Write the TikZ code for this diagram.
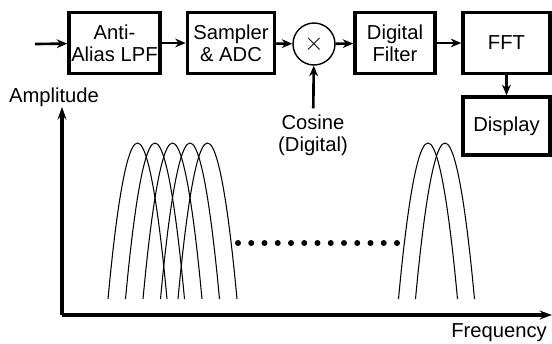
\documentclass[tikz,border=0pt]{standalone}
\usepackage{fontspec}
\setmainfont{Liberation Sans}
\usetikzlibrary{arrows.meta}

\tikzset{
  blk/.style = {draw, line width=2pt, minimum height=1.22cm, align=center, inner sep=1pt, font=\fontsize{11.5}{12.5}\selectfont},
  flow/.style = {-{Stealth[length=6pt, width=5pt]}, line width=1.5pt},
  lobe/.style = {line width=0.6pt}
}

\begin{document}
\begin{tikzpicture}[x = 0.02cm, y = -0.02cm]
    \useasboundingbox (0, 0) rectangle (552, 343);

    % signal chain
    \coordinate (in) at (35, 44);
    \node [blk, minimum width = 1.82cm] (lpf) at (114.5, 43) {Anti-\\Alias LPF};
    \node [blk, minimum width = 1.74cm] (adc) at (231, 43) {Sampler\\\& ADC};
    \node [draw, circle, line width=0.8pt, minimum size = 0.84cm, inner sep=0pt] (mix) at (314, 44) {\Large$\times$};
    \node [blk, minimum width = 1.6cm] (filt) at (395, 43) {Digital\\Filter};
    \node [blk, minimum width = 1.74cm] (fft) at (506.5, 43) {FFT};
    \node [blk, minimum width = 1.74cm, minimum height = 1.16cm] (disp) at (506.5, 126) {Display};
    \node [align = center, font=\fontsize{11.5}{12.5}\selectfont] (cos) at (313, 135) {Cosine\\(Digital)};

    \draw [flow] (in) -- (lpf);
    \draw [flow] (lpf) -- (adc);
    \draw [flow] (adc) -- (mix);
    \draw [flow] (mix) -- (filt);
    \draw [flow] (filt) -- (fft);
    \draw [flow] (fft) -- (disp);
    \draw [flow] (cos) -- (mix);

    % spectrum axes
    \coordinate (orig) at (62, 315);
    \coordinate (ytop) at (62, 107);
    \coordinate (xend) at (552, 315);
    \node [font=\fontsize{11.5}{12.5}\selectfont] (amp) at (54, 97) {Amplitude};
    \node [font=\fontsize{11.5}{12.5}\selectfont] (freq) at (499, 333) {Frequency};
    \draw [-{Stealth[length=7pt, width=5pt]}, line width=2pt] (orig) -- (ytop);
    \draw [-{Stealth[length=7pt, width=5pt]}, line width=2pt] (orig) -- (xend);

    % filter bank
    \foreach \c in {137.5, 155, 172.5, 190, 207.5, 428, 445}
    \draw [lobe] ({\c - 29.5}, 299) parabola bend (\c, 143) ({\c + 29.5}, 299);
    \foreach \i in {0,...,12}
    \fill (238 + 13.25*\i, 243) circle (1.7pt);
\end{tikzpicture}
\end{document}
